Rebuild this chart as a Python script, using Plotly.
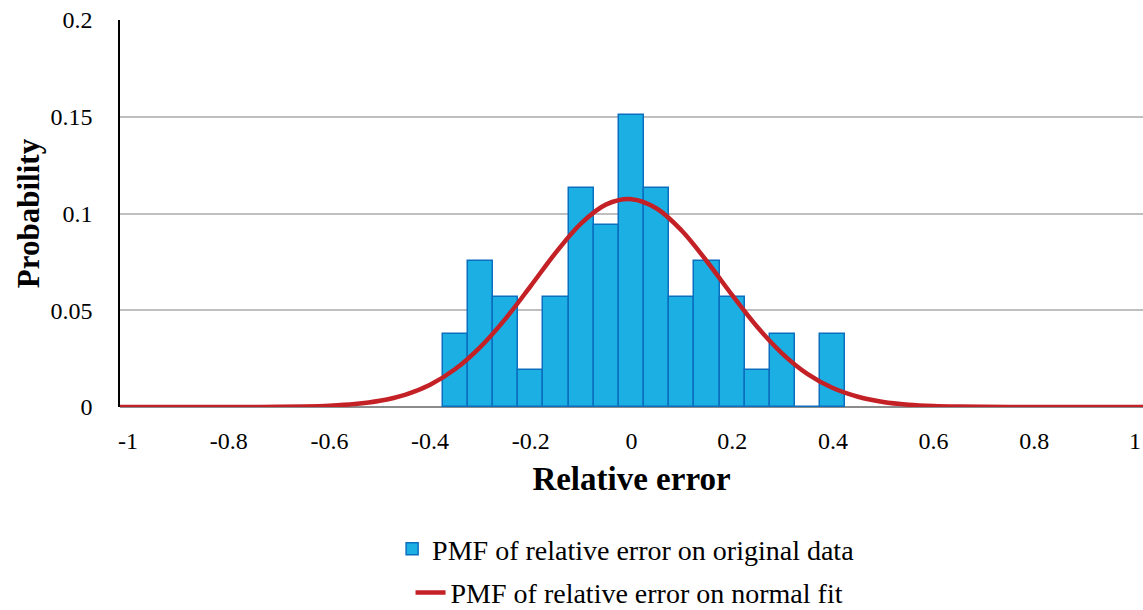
import plotly.graph_objects as go

# Histogram (PMF of relative error on original data)
bin_centers = [-0.35, -0.30, -0.25, -0.20, -0.15, -0.10, -0.05, 0.0,
               0.05, 0.10, 0.15, 0.20, 0.25, 0.30, 0.35, 0.40]
pmf_values = [0.0377, 0.0755, 0.0566, 0.0189, 0.0566, 0.1132, 0.0943, 0.1509,
              0.1132, 0.0566, 0.0755, 0.0566, 0.0189, 0.0377, 0.0, 0.0377]

# Normal fit curve
fit_x = [-1.016, -1.0, -0.95, -0.90, -0.85, -0.80, -0.75, -0.70, -0.65, -0.60, -0.55,
         -0.50, -0.45, -0.40, -0.35, -0.30, -0.25, -0.20, -0.15, -0.10, -0.05,
         0.0, 0.05, 0.10, 0.15, 0.20, 0.25, 0.30, 0.35, 0.40, 0.45,
         0.50, 0.55, 0.60, 0.65, 0.70, 0.75, 0.80, 0.85, 0.90, 0.95, 1.0, 1.016]
fit_y = [0.0, 0.0, 0.0, 0.0, 0.0, 0.00001, 0.00004, 0.0001, 0.00027, 0.00066, 0.0015,
         0.0032, 0.0063, 0.0115, 0.0196, 0.0311, 0.0457, 0.0626, 0.0799, 0.0949, 0.1047,
         0.1074, 0.1026, 0.0911, 0.0752, 0.0578, 0.0413, 0.0275, 0.0170, 0.0098, 0.0053,
         0.0026, 0.0012, 0.0005, 0.0002, 0.00008, 0.00003, 0.00001, 0.0, 0.0, 0.0, 0.0, 0.0]

x_ticks = [-1, -0.8, -0.6, -0.4, -0.2, 0, 0.2, 0.4, 0.6, 0.8, 1]
x_tick_labels = ["-1", "-0.8", "-0.6", "-0.4", "-0.2", "0", "0.2", "0.4", "0.6", "0.8", "1"]
y_ticks = [0, 0.05, 0.1, 0.15, 0.2]
y_tick_labels = ["0", "0.05", "0.1", "0.15", "0.2"]

FONT = "Liberation Serif, Times New Roman, serif"

fig = go.Figure()
fig.add_trace(go.Bar(
    x=bin_centers, y=pmf_values, width=0.05,
    name="PMF of relative error on original data",
    marker=dict(color="#1CAFE4", line=dict(color="#0B6FC0", width=1.5)),
    legend="legend",
))
fig.add_trace(go.Scatter(
    x=fit_x, y=fit_y, mode="lines",
    line=dict(color="#C42127", width=4.5, shape="spline"),
    name="PMF of relative error on normal fit",
    legend="legend2",
))

fig.update_layout(
    width=1143, height=610,
    margin=dict(l=120, r=0, t=20, b=203, autoexpand=False),
    plot_bgcolor="white", paper_bgcolor="white",
    font=dict(family=FONT, color="black", size=24),
    bargap=0,
    showlegend=True,
    legend=dict(
        x=0.266, y=-0.367,
        xanchor="left", yanchor="middle",
        font=dict(family=FONT, size=28, color="black"),
        bgcolor="rgba(0,0,0,0)", itemwidth=30,
    ),
    legend2=dict(
        x=0.284, y=-0.48,
        xanchor="left", yanchor="middle",
        font=dict(family=FONT, size=28, color="black"),
        bgcolor="rgba(0,0,0,0)", itemwidth=30,
    ),
)

fig.update_xaxes(
    range=[-1.016, 1.016],
    tickvals=x_ticks, ticktext=x_tick_labels, tickangle=0,
    tickfont=dict(family=FONT, size=24, color="black"),
    showgrid=False, zeroline=False, showline=False,
    ticks="outside", ticklen=12, tickcolor="rgba(0,0,0,0)",
    title=dict(text="<b>Relative error</b>", font=dict(family=FONT, size=33, color="black"), standoff=14),
)
fig.update_yaxes(
    range=[0, 0.2],
    tickvals=y_ticks, ticktext=y_tick_labels,
    tickfont=dict(family=FONT, size=24, color="black"),
    showgrid=True, gridcolor="#BFBFBF", gridwidth=1.5,
    zeroline=True, zerolinecolor="#8C8C8C", zerolinewidth=2,
    showline=True, linecolor="black", linewidth=1.5,
    ticks="outside", ticklen=21, tickcolor="rgba(0,0,0,0)",
    title=dict(text="<b>Probability</b>", font=dict(family=FONT, size=31, color="black"), standoff=2),
)

fig.write_html("out.html")
